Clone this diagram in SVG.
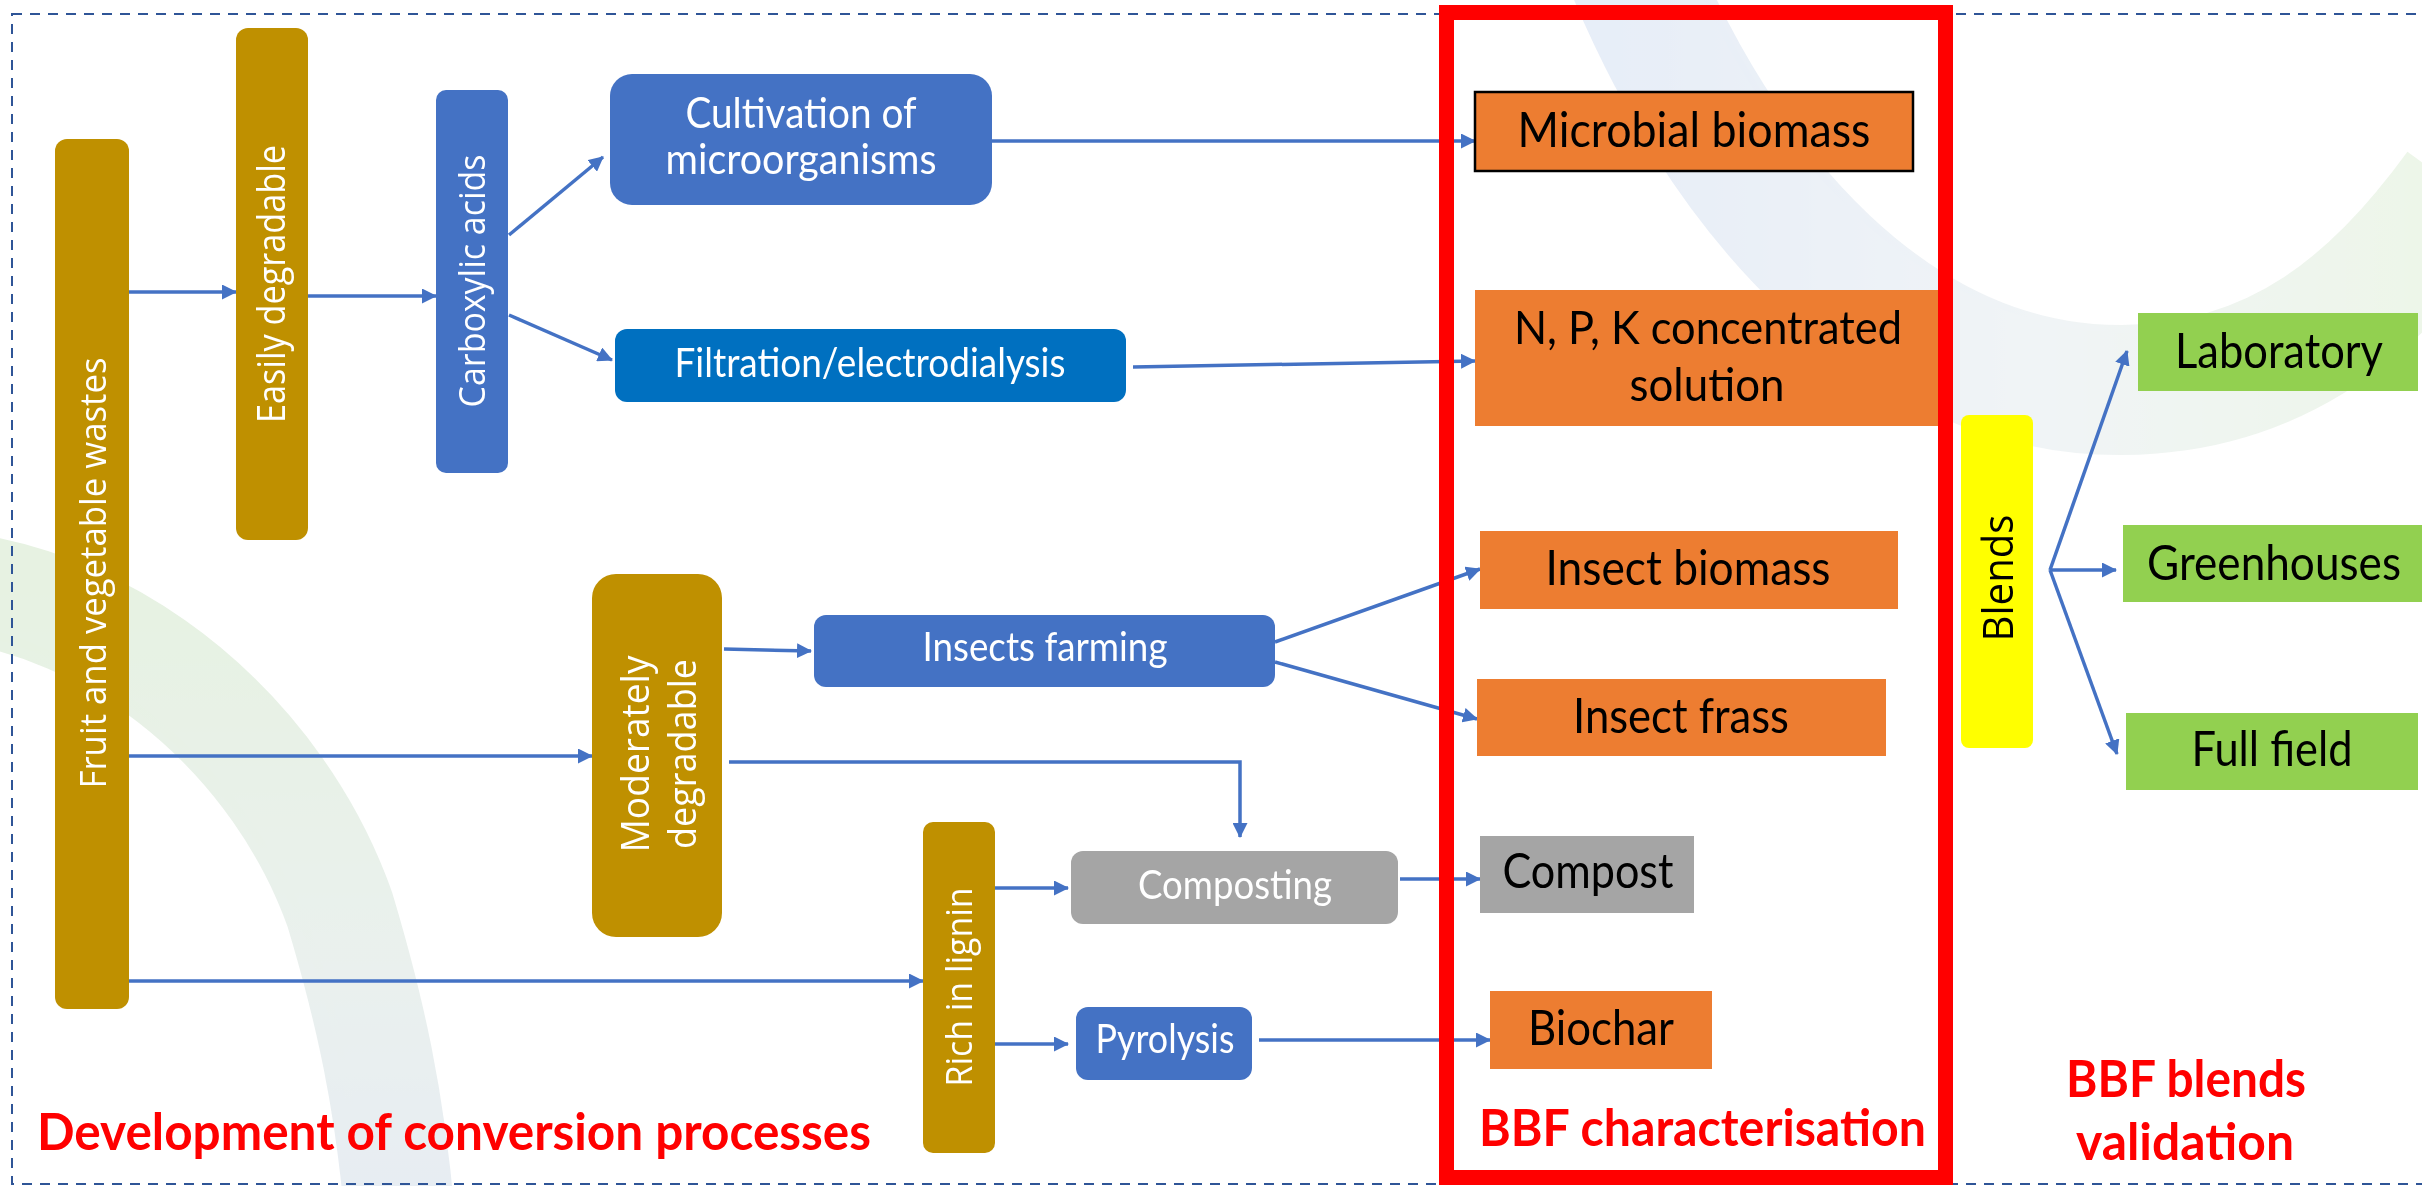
<svg xmlns="http://www.w3.org/2000/svg" width="2422" height="1186" viewBox="0 0 2422 1186">
<style>
.gold{fill:#BF9000}
.blue{fill:#4472C4}
.blue2{fill:#0070C0}
.gray{fill:#A5A5A5}
.orange{fill:#ED7D31}
.green{fill:#92D050}
.yellow{fill:#FFFF00}
.os{font-family:'Open Sans','DejaVu Sans',sans-serif;fill:#fff}
.cal{font-family:Lato,'Liberation Sans',sans-serif;fill:#fff}
.blk{fill:#000}
.title{font-family:Lato,'Liberation Sans',sans-serif;font-weight:bold;fill:#FF0000;font-size:52px}
.conn line,.conn path{stroke:#4472C4;stroke-width:3.5;fill:none;marker-end:url(#ah)}
</style>
<defs>
<marker id="ah" markerUnits="userSpaceOnUse" markerWidth="15" markerHeight="15" refX="14" refY="7.5" orient="auto">
<path d="M0,0 L15,7.5 L0,15 z" fill="#4472C4"/>
</marker>
<linearGradient id="gl" x1="0" y1="0" x2="0" y2="1">
<stop offset="0" stop-color="#9cc98a"/>
<stop offset="0.6" stop-color="#a9c3b8"/>
<stop offset="1" stop-color="#9db3cf"/>
</linearGradient>
<linearGradient id="gr" x1="0" y1="0" x2="1" y2="0">
<stop offset="0" stop-color="#9fb8e0"/>
<stop offset="0.5" stop-color="#c3d2da"/>
<stop offset="1" stop-color="#b5d9a0"/>
</linearGradient>
</defs>
<rect width="2422" height="1186" fill="#fff"/>
<g id="background" opacity="0.25">
<path d="M -60,585 C 120,600 280,740 340,910 C 370,1010 390,1100 400,1220" stroke="url(#gl)" stroke-width="110" fill="none"/>
<path d="M -60,625 C 100,640 250,780 310,940 C 340,1030 355,1110 362,1220" stroke="url(#gl)" stroke-width="8" fill="none" opacity="0.6"/>
<path d="M 1620,-60 C 1720,200 1900,390 2120,390 C 2280,390 2380,300 2460,190" stroke="url(#gr)" stroke-width="130" fill="none"/>
<path d="M 1680,-60 C 1780,180 1940,330 2130,330 C 2270,330 2370,250 2460,150" stroke="url(#gr)" stroke-width="6" fill="none" opacity="0.6"/>
</g>
<rect id="frame" x="12" y="14" width="2440" height="1170" fill="none" stroke="#2F5597" stroke-width="2" stroke-dasharray="10 8"/>
<g class="conn" id="connectors">
<line x1="129" y1="292" x2="236" y2="292"/>
<line x1="306" y1="296" x2="436" y2="296"/>
<line x1="509" y1="235" x2="603" y2="157"/>
<line x1="509" y1="315" x2="612" y2="360"/>
<line x1="992" y1="141" x2="1475" y2="141"/>
<line x1="1133" y1="367" x2="1475" y2="361"/>
<line x1="129" y1="756" x2="592" y2="756"/>
<line x1="724" y1="649" x2="811" y2="651"/>
<path d="M729,762 H1240 V837"/>
<line x1="129" y1="981" x2="923" y2="981"/>
<line x1="995" y1="888" x2="1068" y2="888"/>
<line x1="995" y1="1044" x2="1068" y2="1044"/>
<line x1="1275" y1="642" x2="1480" y2="569"/>
<line x1="1275" y1="662" x2="1477" y2="719"/>
<line x1="1400" y1="879" x2="1480" y2="879"/>
<line x1="1259" y1="1040" x2="1490" y2="1040"/>
<line x1="2050" y1="570" x2="2127" y2="351"/>
<line x1="2050" y1="570" x2="2116" y2="570"/>
<line x1="2050" y1="570" x2="2117" y2="754"/>
</g>
<g id="fruit">
<rect class="gold" x="55" y="139" width="74" height="870" rx="12"/>
<text class="os" font-size="37" text-anchor="middle" transform="translate(106,573) rotate(-90)" textLength="431" lengthAdjust="spacingAndGlyphs">Fruit and vegetable wastes</text>
</g>
<g id="easily">
<rect class="gold" x="236" y="28" width="72" height="512" rx="12"/>
<text class="os" font-size="38" text-anchor="middle" transform="translate(285,284) rotate(-90)" textLength="278" lengthAdjust="spacingAndGlyphs">Easily degradable</text>
</g>
<g id="carboxylic">
<rect class="blue" x="436" y="90" width="72" height="383" rx="10"/>
<text class="os" font-size="37" text-anchor="middle" transform="translate(485,281) rotate(-90)" textLength="253" lengthAdjust="spacingAndGlyphs">Carboxylic acids</text>
</g>
<g id="cultivation">
<rect class="blue" x="610" y="74" width="382" height="131" rx="22"/>
<text class="cal" font-size="42" text-anchor="middle" x="801" y="128" textLength="231" lengthAdjust="spacingAndGlyphs">Cultivation of</text>
<text class="cal" font-size="42" text-anchor="middle" x="801" y="174" textLength="271" lengthAdjust="spacingAndGlyphs">microorganisms</text>
</g>
<g id="filtration">
<rect class="blue2" x="615" y="329" width="511" height="73" rx="12"/>
<text class="cal" font-size="40" text-anchor="middle" x="870" y="377" textLength="391" lengthAdjust="spacingAndGlyphs">Filtration/electrodialysis</text>
</g>
<g id="moderately">
<rect class="gold" x="592" y="574" width="130" height="363" rx="24"/>
<text class="os" font-size="39" text-anchor="middle" transform="translate(649,754) rotate(-90)" textLength="197" lengthAdjust="spacingAndGlyphs">Moderately</text>
<text class="os" font-size="39" text-anchor="middle" transform="translate(696,754) rotate(-90)" textLength="190" lengthAdjust="spacingAndGlyphs">degradable</text>
</g>
<g id="rich">
<rect class="gold" x="923" y="822" width="72" height="331" rx="10"/>
<text class="os" font-size="36" text-anchor="middle" transform="translate(972,987) rotate(-90)" textLength="199" lengthAdjust="spacingAndGlyphs">Rich in lignin</text>
</g>
<g id="insects-farming">
<rect class="blue" x="814" y="615" width="461" height="72" rx="12"/>
<text class="cal" font-size="40" text-anchor="middle" x="1045" y="661" textLength="245" lengthAdjust="spacingAndGlyphs">Insects farming</text>
</g>
<g id="composting">
<rect class="gray" x="1071" y="851" width="327" height="73" rx="12"/>
<text class="cal" font-size="40" text-anchor="middle" x="1235" y="899" textLength="194" lengthAdjust="spacingAndGlyphs">Composting</text>
</g>
<g id="pyrolysis">
<rect class="blue" x="1076" y="1007" width="176" height="73" rx="12"/>
<text class="cal" font-size="40" text-anchor="middle" x="1165" y="1053" textLength="139" lengthAdjust="spacingAndGlyphs">Pyrolysis</text>
</g>
<g id="microbial-biomass">
<rect class="orange" x="1475" y="92" width="438" height="79" stroke="#000" stroke-width="2.5"/>
<text class="cal blk" font-size="48" text-anchor="middle" x="1694" y="147" textLength="353" lengthAdjust="spacingAndGlyphs">Microbial biomass</text>
</g>
<g id="npk">
<rect class="orange" x="1475" y="290" width="463" height="136"/>
<text class="cal blk" font-size="47" text-anchor="middle" x="1708" y="344" textLength="388" lengthAdjust="spacingAndGlyphs">N, P, K concentrated</text>
<text class="cal blk" font-size="47" text-anchor="middle" x="1707" y="401" textLength="155" lengthAdjust="spacingAndGlyphs">solution</text>
</g>
<g id="insect-biomass">
<rect class="orange" x="1480" y="531" width="418" height="78"/>
<text class="cal blk" font-size="48" text-anchor="middle" x="1688" y="585" textLength="285" lengthAdjust="spacingAndGlyphs">Insect biomass</text>
</g>
<g id="insect-frass">
<rect class="orange" x="1477" y="679" width="409" height="77"/>
<text class="cal blk" font-size="48" text-anchor="middle" x="1681" y="733" textLength="216" lengthAdjust="spacingAndGlyphs">Insect frass</text>
</g>
<g id="compost">
<rect class="gray" x="1480" y="836" width="214" height="77"/>
<text class="cal blk" font-size="48" text-anchor="middle" x="1588" y="888" textLength="171" lengthAdjust="spacingAndGlyphs">Compost</text>
</g>
<g id="biochar">
<rect class="orange" x="1490" y="991" width="222" height="78"/>
<text class="cal blk" font-size="48" text-anchor="middle" x="1601" y="1045" textLength="146" lengthAdjust="spacingAndGlyphs">Biochar</text>
</g>
<rect id="bbf-frame" x="1446.5" y="12.5" width="499" height="1165" fill="none" stroke="#FF0000" stroke-width="15"/>
<g id="blends">
<rect class="yellow" x="1961" y="415" width="72" height="333" rx="8"/>
<text class="os blk" font-size="42" text-anchor="middle" transform="translate(2013,578) rotate(-90)" textLength="127" lengthAdjust="spacingAndGlyphs">Blends</text>
</g>
<g id="laboratory">
<rect class="green" x="2138" y="313" width="280" height="78"/>
<text class="cal blk" font-size="48" text-anchor="middle" x="2279" y="368" textLength="208" lengthAdjust="spacingAndGlyphs">Laboratory</text>
</g>
<g id="greenhouses">
<rect class="green" x="2123" y="525" width="301" height="77"/>
<text class="cal blk" font-size="48" text-anchor="middle" x="2274" y="580" textLength="254" lengthAdjust="spacingAndGlyphs">Greenhouses</text>
</g>
<g id="full-field">
<rect class="green" x="2126" y="713" width="292" height="77"/>
<text class="cal blk" font-size="48" text-anchor="middle" x="2272" y="766" textLength="161" lengthAdjust="spacingAndGlyphs">Full field</text>
</g>
<g id="labels">
<text class="title" x="37" y="1150" textLength="834" lengthAdjust="spacingAndGlyphs">Development of conversion processes</text>
<text class="title" x="1479" y="1146" textLength="447" lengthAdjust="spacingAndGlyphs">BBF characterisation</text>
<text class="title" x="2186" y="1097" text-anchor="middle" textLength="240" lengthAdjust="spacingAndGlyphs">BBF blends</text>
<text class="title" x="2185" y="1160" text-anchor="middle" textLength="218" lengthAdjust="spacingAndGlyphs">validation</text>
</g>
</svg>
